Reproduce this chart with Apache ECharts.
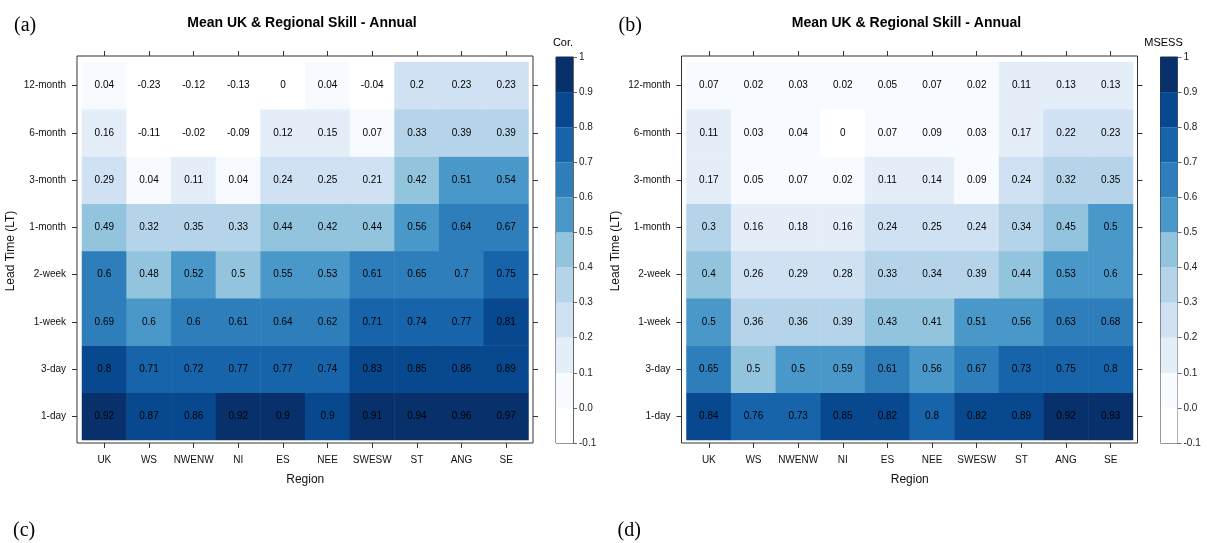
<!DOCTYPE html>
<html>
<head>
<meta charset="utf-8">
<script src="https://cdn.jsdelivr.net/npm/echarts@6/dist/echarts.min.js"></script>
<style>html,body{margin:0;padding:0;background:#fff;}#c{width:1207px;height:543px;}</style>
</head>
<body>
<div id="c"></div>
<script>
// ---- data ----
const regions = ['UK','WS','NWENW','NI','ES','NEE','SWESW','ST','ANG','SE'];
const leadTimes = ['1-day','3-day','1-week','2-week','1-month','3-month','6-month','12-month']; // bottom -> top

// Correlation (panel a), one array per lead time, regions in order
const cor1day   = [0.92,0.87,0.86,0.92,0.9,0.898,0.91,0.94,0.96,0.97];
const cor3day   = [0.8,0.71,0.72,0.77,0.77,0.74,0.83,0.85,0.86,0.89];
const cor1week  = [0.69,0.598,0.6,0.61,0.64,0.62,0.71,0.74,0.77,0.81];
const cor2week  = [0.6,0.48,0.52,0.498,0.55,0.53,0.61,0.65,0.698,0.75];
const cor1month = [0.49,0.32,0.35,0.33,0.44,0.42,0.44,0.56,0.64,0.67];
const cor3month = [0.29,0.04,0.11,0.04,0.24,0.25,0.21,0.42,0.51,0.54];
const cor6month = [0.16,-0.11,-0.02,-0.09,0.12,0.15,0.07,0.33,0.39,0.39];
const cor12month= [0.04,-0.23,-0.12,-0.13,-0.004,0.04,-0.04,0.2,0.23,0.23];

// MSESS (panel b)
const ms1day    = [0.84,0.76,0.73,0.85,0.82,0.798,0.82,0.89,0.92,0.93];
const ms3day    = [0.65,0.498,0.5,0.59,0.61,0.56,0.67,0.73,0.75,0.798];
const ms1week   = [0.5,0.36,0.36,0.39,0.43,0.41,0.51,0.56,0.63,0.68];
const ms2week   = [0.4,0.26,0.29,0.28,0.33,0.34,0.39,0.44,0.53,0.598];
const ms1month  = [0.3,0.16,0.18,0.16,0.24,0.25,0.24,0.34,0.45,0.5];
const ms3month  = [0.17,0.05,0.07,0.02,0.11,0.14,0.09,0.24,0.32,0.35];
const ms6month  = [0.11,0.03,0.04,-0.004,0.07,0.09,0.03,0.17,0.22,0.23];
const ms12month = [0.07,0.02,0.03,0.02,0.05,0.07,0.02,0.11,0.13,0.13];

// colour scale bins
const binEdges = [-0.1,0,0.1,0.2,0.3,0.4,0.5,0.6,0.7,0.8,0.9,1];
const binColors = ['#FFFFFF','#F7FBFF','#E3EEF9','#CFE1F2','#B5D4E9','#93C4DE','#4A98C9','#2E7EBC','#1764AB','#08488E','#08306B'];

// ---- build ----
const corRows = [cor1day,cor3day,cor1week,cor2week,cor1month,cor3month,cor6month,cor12month];
const msRows  = [ms1day,ms3day,ms1week,ms2week,ms1month,ms3month,ms6month,ms12month];
function toCells(rows){
  const out=[];
  rows.forEach((r,j)=>r.forEach((v,i)=>out.push([i,j,v])));
  return out;
}
const pieces = binColors.map((c,k)=>{
  if(k===0) return {lt:binEdges[1], color:c};
  if(k===binColors.length-1) return {gte:binEdges[k], color:c};
  return {gte:binEdges[k], lt:binEdges[k+1], color:c};
});

const FONT = '"Liberation Sans", Arial, sans-serif';
const SERIF = '"Liberation Serif", "Times New Roman", serif';
const AX = '#333';

const panels = [
  {dx:0, rows:corRows, label:'(a)', sub:'(c)', key:'Cor.', keyX:563},
  {dx:604.5, rows:msRows, label:'(b)', sub:'(d)', key:'MSESS', keyX:1163.5}
];

const option = {
  animation:false,
  backgroundColor:'#fff',
  textStyle:{fontFamily:FONT},
  title:[], grid:[], xAxis:[], yAxis:[], series:[],
  visualMap:[{type:'piecewise', show:false, pieces:pieces, seriesIndex:[0,1], dimension:2}]
};

panels.forEach((p,pi)=>{
  const dx=p.dx;
  // titles / letters
  option.title.push({text:'Mean UK & Regional Skill - Annual', left:302+dx, top:16, padding:0, textAlign:'center',
    textStyle:{fontFamily:FONT, fontWeight:'bold', fontSize:14, color:'#000'}});
  option.title.push({text:p.label, left:14+dx, top:16, padding:0,
    textStyle:{fontFamily:SERIF, fontWeight:'normal', fontSize:20, color:'#000'}});
  option.title.push({text:p.sub, left:13+dx, top:521, padding:0,
    textStyle:{fontFamily:SERIF, fontWeight:'normal', fontSize:20, color:'#000'}});
  option.title.push({text:p.key, left:p.keyX, top:37, padding:0, textAlign:'center',
    textStyle:{fontFamily:FONT, fontWeight:'normal', fontSize:11, color:'#000'}});

  const gOuter = option.grid.length;
  option.grid.push({left:77+dx, top:56, width:456, height:387, show:true, borderColor:AX, borderWidth:1, backgroundColor:'transparent'});
  const gInner = option.grid.length;
  option.grid.push({left:82+dx, top:62, width:446.5, height:378});
  const gBar = option.grid.length;
  option.grid.push({left:556+dx, top:57, width:17, height:386, show:true, borderColor:AX, borderWidth:1, backgroundColor:'transparent'});

  // outer frame axes (hidden)
  option.xAxis.push({gridIndex:gOuter, type:'value', min:0, max:1, show:false});
  option.yAxis.push({gridIndex:gOuter, type:'value', min:0, max:1, show:false});

  const xi = option.xAxis.length;
  option.xAxis.push({gridIndex:gInner, type:'category', data:regions, position:'bottom', offset:3,
    axisLine:{show:false}, splitLine:{show:false},
    axisTick:{show:true, alignWithLabel:true, interval:0, length:5, lineStyle:{color:AX}},
    axisLabel:{interval:0, margin:12, fontSize:10, color:'#111', fontFamily:FONT},
    name:'Region', nameLocation:'middle', nameGap:31, nameTextStyle:{fontSize:12, color:'#111', fontFamily:FONT}});
  option.xAxis.push({gridIndex:gInner, type:'category', data:regions, position:'top', offset:6,
    axisLine:{show:false}, axisLabel:{show:false},
    axisTick:{show:true, alignWithLabel:true, interval:0, length:5, lineStyle:{color:AX}}});
  const yi = option.yAxis.length;
  option.yAxis.push({gridIndex:gInner, type:'category', data:leadTimes, position:'left', offset:5,
    axisLine:{show:false}, splitLine:{show:false},
    axisTick:{show:true, alignWithLabel:true, interval:0, length:5, lineStyle:{color:AX}},
    axisLabel:{interval:0, margin:11, fontSize:10, color:'#111', fontFamily:FONT},
    name:'Lead Time (LT)', nameLocation:'middle', nameGap:60, nameRotate:90, nameTextStyle:{fontSize:12, color:'#111', fontFamily:FONT}});
  option.yAxis.push({gridIndex:gInner, type:'category', data:leadTimes, position:'right', offset:4.5,
    axisLine:{show:false}, axisLabel:{show:false},
    axisTick:{show:true, alignWithLabel:true, interval:0, length:5, lineStyle:{color:AX}}});

  // colour bar axes
  const cbx = option.xAxis.length;
  option.xAxis.push({gridIndex:gBar, type:'category', data:['k'], show:false});
  const cby = option.yAxis.length;
  option.yAxis.push({gridIndex:gBar, type:'value', min:binEdges[0], max:binEdges[binEdges.length-1], interval:0.1, position:'right',
    splitLine:{show:false},
    axisLine:{show:true, lineStyle:{color:'#666'}},
    axisTick:{show:true, length:4, lineStyle:{color:'#666'}},
    axisLabel:{margin:6, fontSize:10, color:'#222', fontFamily:FONT,
      formatter:v=>Math.abs(v-1)<1e-9?'1':(Math.round(v*10)/10).toFixed(1)}});

  option.series.splice(pi,0,{
    type:'heatmap', xAxisIndex:xi, yAxisIndex:yi, data:toCells(p.rows),
    label:{show:true, fontSize:10, color:'#000', fontFamily:FONT,
      formatter:o=>String(Number(o.value[2].toFixed(2)))},
    itemStyle:{borderWidth:0}, emphasis:{disabled:true}
  });
  // colour bar: stacked segments
  binColors.forEach((c,k)=>{
    const w = binEdges[k+1]-binEdges[k];
    const negative = binEdges[k+1] <= 0;
    option.series.push({type:'bar', xAxisIndex:cbx, yAxisIndex:cby, stack:'cb'+pi, barWidth:'100%',
      data:[negative ? -w : w], itemStyle:{color:c}, silent:true});
  });
});

const chart = echarts.init(document.getElementById('c'), null, {renderer:'canvas'});
chart.setOption(option);
</script>
</body>
</html>
